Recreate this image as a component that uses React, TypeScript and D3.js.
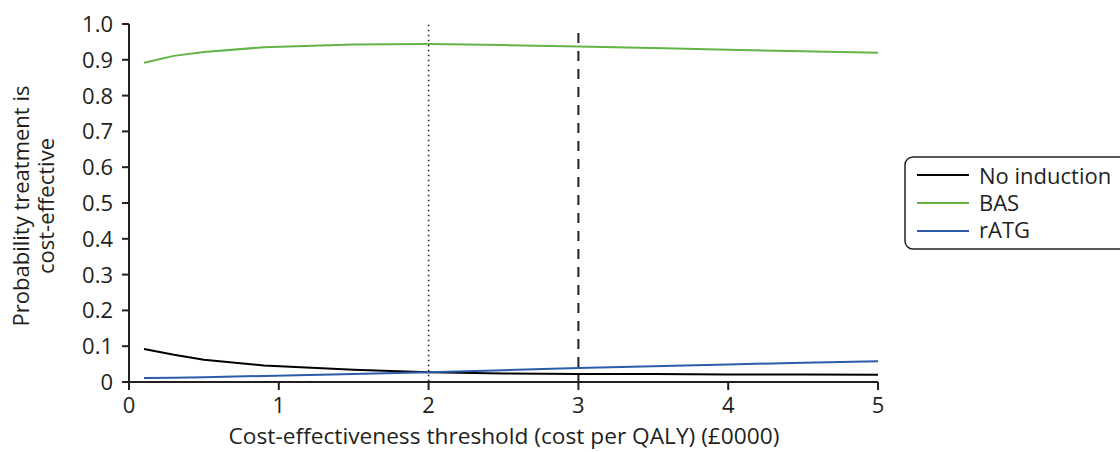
import React from "react";
import * as d3 from "d3";

const thresholds = [0.1, 0.3, 0.5, 0.9, 1.5, 2, 2.5, 3, 3.5, 4, 4.5, 5];
const noInduction = [0.092, 0.076, 0.062, 0.046, 0.034, 0.027, 0.024, 0.022, 0.022, 0.021, 0.021, 0.020];
const bas = [0.892, 0.911, 0.922, 0.935, 0.943, 0.944, 0.941, 0.937, 0.933, 0.928, 0.924, 0.920];
const ratg = [0.011, 0.012, 0.013, 0.017, 0.022, 0.027, 0.033, 0.039, 0.044, 0.049, 0.054, 0.058];
const seriesNames = ["No induction", "BAS", "rATG"];
const seriesColors = ["#000000", "#62b446", "#2a5ca8"];
const xTicks = [0, 1, 2, 3, 4, 5];
const yTicks = [0, 0.1, 0.2, 0.3, 0.4, 0.5, 0.6, 0.7, 0.8, 0.9, 1.0];

const W = 1120, H = 452;
const left = 129, right = 878, top = 24, bottom = 382;
const font = "'Open Sans', sans-serif";
const fs = 22;

export default function App() {
  const x = d3.scaleLinear().domain([0, 5]).range([left, right]);
  const y = d3.scaleLinear().domain([0, 1]).range([bottom, top]);
  const line = d3.line<number>().x((_, i) => x(thresholds[i])).y((d) => y(d));
  const all = [noInduction, bas, ratg];
  return (
    <svg width={W} height={H} style={{ position: "absolute", left: 0, top: 0 }} fontFamily={font}>
      <line x1={x(2)} x2={x(2)} y1={y(0.998)} y2={bottom} stroke="#222" strokeWidth={1.6} strokeDasharray="1.5 3.5" />
      <line x1={x(3)} x2={x(3)} y1={y(0.975)} y2={bottom} stroke="#222" strokeWidth={2} strokeDasharray="10 8" />
      {all.map((s, i) => (
        <path key={i} d={line(s) || ""} fill="none" stroke={seriesColors[i]} strokeWidth={2} />
      ))}
      <line x1={left} x2={left} y1={top} y2={bottom} stroke="#231f20" strokeWidth={2} />
      <line x1={left} x2={right} y1={bottom} y2={bottom} stroke="#231f20" strokeWidth={2} />
      {yTicks.map((t) => (
        <g key={t}>
          <line x1={left - 7} x2={left} y1={y(t)} y2={y(t)} stroke="#231f20" strokeWidth={2} />
          <text x={113} y={y(t)} dy="0.36em" textAnchor="end" fontSize={fs} fill="#231f20">
            {t === 0 ? "0" : t.toFixed(1)}
          </text>
        </g>
      ))}
      {xTicks.map((t) => (
        <g key={t}>
          <line x1={x(t)} x2={x(t)} y1={bottom} y2={bottom + 8} stroke="#231f20" strokeWidth={2} />
          <text x={x(t)} y={413} textAnchor="middle" fontSize={fs} fill="#231f20">{t}</text>
        </g>
      ))}
      <text x={504} y={444} textAnchor="middle" fontSize={22.7} fill="#231f20">
        Cost-effectiveness threshold (cost per QALY) (£0000)
      </text>
      <text transform={`translate(29,206) rotate(-90)`} textAnchor="middle" fontSize={fs} fill="#231f20">
        <tspan x={0} dy="0">Probability treatment is</tspan>
        <tspan x={0} dy="25">cost-effective</tspan>
      </text>
      <rect x={905} y={157} width={240} height={92} rx={8} fill="white" stroke="#231f20" strokeWidth={1.5} />
      {seriesNames.map((n, i) => (
        <g key={n}>
          <line x1={917} x2={969} y1={175 + i * 28} y2={175 + i * 28} stroke={seriesColors[i]} strokeWidth={2} />
          <text x={979} y={176 + i * 27} dy="0.36em" fontSize={fs} fill="#231f20">{n}</text>
        </g>
      ))}
    </svg>
  );
}
